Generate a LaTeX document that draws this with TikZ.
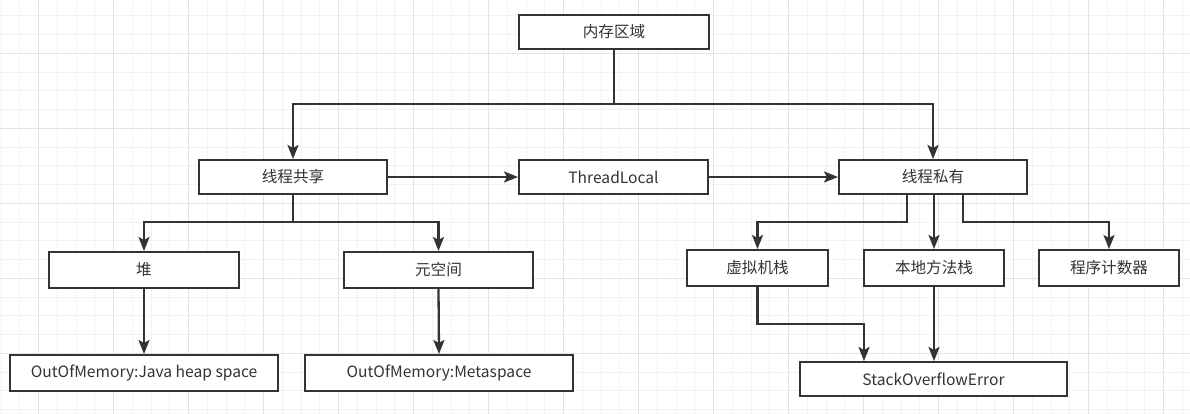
\documentclass[tikz,border=0pt]{standalone}
\usepackage{fontspec}
\setmainfont{Noto Sans CJK SC}
\usetikzlibrary{arrows.meta}
\definecolor{ink}{HTML}{333333}
\definecolor{minorgrid}{HTML}{F2F2F2}
\definecolor{majorgrid}{HTML}{E3E3E3}
\begin{document}
\begin{tikzpicture}[x=1pt,y=-1pt,
  box/.style={draw=ink, line width=2.4pt, fill=white, text=ink, inner sep=0pt,
    font=\fontsize{15.6}{18}\selectfont},
  arr/.style={draw=ink, line width=2.3pt, -{Stealth[length=14pt,width=11pt,inset=3pt]}},
  ln/.style={draw=ink, line width=2.3pt}]
\useasboundingbox (0,0) rectangle (1190,414);
\fill[white] (0,0) rectangle (1190,414);
% grid
\foreach \i in {0,...,63} {
  \pgfmathsetmacro{\gx}{1.2+18.75*\i}
  \draw[minorgrid, line width=1pt] (\gx,0) -- (\gx,414);
}
\foreach \i in {0,...,22} {
  \pgfmathsetmacro{\gy}{-2.95+18.75*\i}
  \draw[minorgrid, line width=1pt] (0,\gy) -- (1190,\gy);
}
\foreach \i in {0,...,15} {
  \pgfmathsetmacro{\gx}{38.7+75*\i}
  \draw[majorgrid, line width=1pt] (\gx,0) -- (\gx,414);
}
\foreach \i in {0,...,5} {
  \pgfmathsetmacro{\gy}{53.3+75*\i}
  \draw[majorgrid, line width=1pt] (0,\gy) -- (1190,\gy);
}
% nodes
\node[box, minimum width=189.6pt, minimum height=33.6pt] (mem) at (614,32) {内存区域};
\node[box, minimum width=187.6pt, minimum height=33.6pt] (shared) at (293,177) {线程共享};
\node[box, minimum width=188.6pt, minimum height=33.6pt] (tl) at (613.5,177) {ThreadLocal};
\node[box, minimum width=187.6pt, minimum height=33.6pt] (priv) at (933,177) {线程私有};
\node[box, minimum width=189.6pt, minimum height=35.6pt] (heap) at (144,270) {堆};
\node[box, minimum width=188.6pt, minimum height=35.6pt] (meta) at (438.5,270) {元空间};
\node[box, minimum width=140.6pt, minimum height=35.6pt] (vms) at (757.5,268) {虚拟机栈};
\node[box, minimum width=139.6pt, minimum height=35.6pt] (nms) at (934,268) {本地方法栈};
\node[box, minimum width=139.6pt, minimum height=35.6pt] (pc) at (1109,268) {程序计数器};
\node[box, minimum width=267.6pt, minimum height=35.6pt] (oomh) at (144,373) {OutOfMemory:Java heap space};
\node[box, minimum width=267.6pt, minimum height=35.6pt] (oomm) at (439,373) {OutOfMemory:Metaspace};
\node[box, minimum width=266.6pt, minimum height=33.6pt] (soe) at (933.5,379) {StackOverflowError};
% junctions
\coordinate (j1) at (mem.south |- 0,104);
\coordinate (j2) at (shared.south |- 0,222);
\coordinate (pl) at (907,0);
\coordinate (pm) at (934,0);
\coordinate (pr) at (963,0);
\coordinate (sl) at (864,0);
% connectors
\draw[ln] (mem.south) -- (j1);
\draw[arr] (j1) -| (shared.north);
\draw[arr] (j1) -| (priv.north);
\draw[arr] (shared.east) -- (tl.west);
\draw[arr] (tl.east) -- (priv.west);
\draw[ln] (shared.south) -- (j2);
\draw[arr] (j2) -| (heap.north);
\draw[arr] (j2) -| (meta.north);
\draw[arr] (priv.south -| pl) -- (pl |- 0,222) -| (vms.north);
\draw[arr] (priv.south -| pm) -- (nms.north);
\draw[arr] (priv.south -| pr) -- (pr |- 0,222) -| (pc.north);
\draw[arr] (heap.south) -- (oomh.north);
\draw[arr] (meta.south) -- (oomm.north);
\draw[arr] (vms.south) -- (vms.south |- 0,324) -| (soe.north -| sl);
\draw[arr] (nms.south) -- (soe.north -| nms.south);
\end{tikzpicture}
\end{document}
